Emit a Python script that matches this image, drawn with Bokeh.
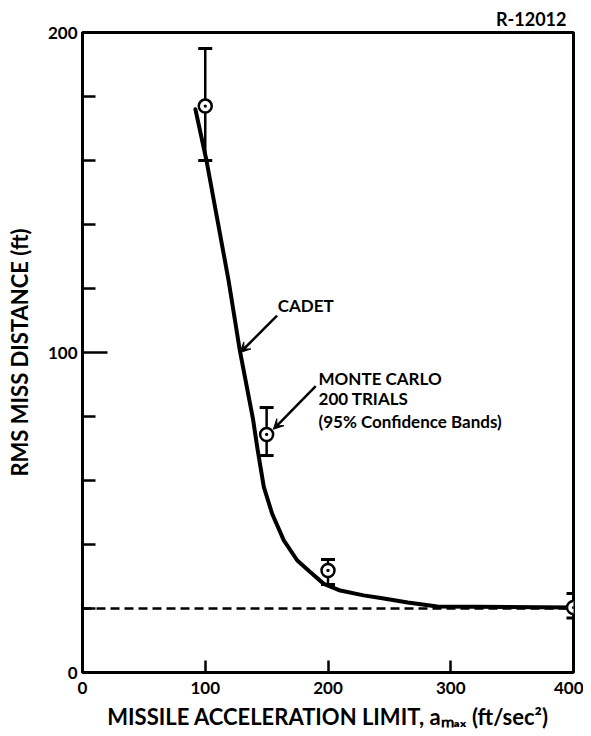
from bokeh.plotting import figure
from bokeh.models import (FixedTicker, Whisker, ColumnDataSource, Label, Arrow,
                          VeeHead, TeeHead, Range1d)
from bokeh.embed import file_html
from bokeh.resources import INLINE

# ---- data ----
cadet_x = [92, 101, 119, 128, 139, 142.5, 147.7, 154.5, 164, 175, 185.7, 196.6, 210, 229, 243, 265, 289, 400]
cadet_y = [176, 160, 122.5, 101, 79, 70, 58, 49.6, 41.3, 35, 31.3, 27.7, 25.6, 24.1, 23.3, 21.9, 20.6, 20.3]

mc_x = [100, 150, 200, 400]
mc_y = [177, 74.4, 31.9, 20.3]
mc_upper = [195, 82.8, 35.3, 24.7]
mc_lower = [160, 67.8, 27.5, 17]

ref_x = [0, 400]
ref_y = [20, 20]

x_ticks = [0, 100, 200, 300, 400]
y_ticks = [0, 100, 200]
y_minor = [20, 40, 60, 80, 120, 140, 160, 180]

FONT = "Lato"

p = figure(width=583, height=734, x_range=Range1d(0, 400), y_range=Range1d(0, 200),
           output_backend="svg", toolbar_location=None,
           min_border_left=82, min_border_right=10, min_border_top=32, min_border_bottom=62)
p.xgrid.visible = False
p.ygrid.visible = False
p.outline_line_color = "black"
p.outline_line_width = 3
p.background_fill_color = "white"
p.border_fill_color = "white"

p.title.text = "R-12012"
p.title.align = "right"
p.title.text_font = FONT
p.title.text_font_style = "bold"
p.title.text_font_size = "18px"
p.title.text_color = "black"
p.title.offset = 7
p.title.standoff = 5

# axes
p.xaxis.ticker = FixedTicker(ticks=x_ticks)
p.yaxis.ticker = FixedTicker(ticks=y_ticks, minor_ticks=y_minor)
for ax in (p.xaxis[0], p.yaxis[0]):
    ax.axis_line_width = 3
    ax.axis_line_color = "black"
    ax.major_tick_line_width = 2.5
    ax.minor_tick_line_width = 2.5
    ax.major_tick_out = 0
    ax.minor_tick_out = 0
    ax.major_label_text_font = FONT
    ax.major_label_text_font_style = "bold"
    ax.major_label_text_font_size = "17px"
    ax.major_label_text_color = "black"
    ax.axis_label_text_font = FONT
    ax.axis_label_text_font_style = "bold"
    ax.axis_label_text_font_size = "22px"
    ax.axis_label_text_color = "black"

p.xaxis.major_tick_in = 12
p.xaxis.minor_tick_in = 0
p.xaxis.major_label_standoff = 9
p.xaxis.axis_label = "MISSILE ACCELERATION LIMIT, aₘₐₓ (ft/sec²)"
p.xaxis.axis_label_standoff = 6

p.yaxis.major_tick_in = 25
p.yaxis.minor_tick_in = 13
p.yaxis.major_label_standoff = 5
p.yaxis.axis_label = "RMS MISS DISTANCE (ft)"
p.yaxis.axis_label_standoff = 12

# dashed reference line
p.line(ref_x, ref_y, line_color="black", line_width=2.5, line_dash="9 5")

# CADET curve
p.line(cadet_x, cadet_y, line_color="black", line_width=4, line_join="round", line_cap="round")

# Monte Carlo error bars
src = ColumnDataSource(data=dict(x=mc_x, y=mc_y, upper=mc_upper, lower=mc_lower))
w = Whisker(source=src, base="x", upper="upper", lower="lower",
            line_color="black", line_width=2.5,
            upper_head=TeeHead(size=14, line_width=3, line_color="black"),
            lower_head=TeeHead(size=14, line_width=3, line_color="black"))
p.add_layout(w)
p.scatter("x", "y", source=src, marker="circle_dot", size=13,
          fill_color="white", line_color="black", line_width=2.5)

# annotations
p.add_layout(Label(x=159, y=114.7, text="CADET", text_font=FONT, text_font_style="bold",
                   text_font_size="17px", text_baseline="middle", text_color="black"))
p.add_layout(Arrow(x_start=158.5, y_start=111.5, x_end=128.5, y_end=100,
                   line_width=2.5, line_color="black",
                   end=VeeHead(size=10, fill_color="black", line_color="black")))

for txt, yy in (("MONTE CARLO", 91.9), ("200 TRIALS", 85.6), ("(95% Confidence Bands)", 78.4)):
    p.add_layout(Label(x=192.3, y=yy, text=txt, text_font=FONT, text_font_style="bold",
                       text_font_size="17px", text_baseline="middle", text_color="black"))
p.add_layout(Arrow(x_start=190, y_start=89.5, x_end=155.5, y_end=76,
                   line_width=2.5, line_color="black",
                   end=VeeHead(size=10, fill_color="black", line_color="black")))

open("out.html", "w").write(file_html(p, INLINE))
